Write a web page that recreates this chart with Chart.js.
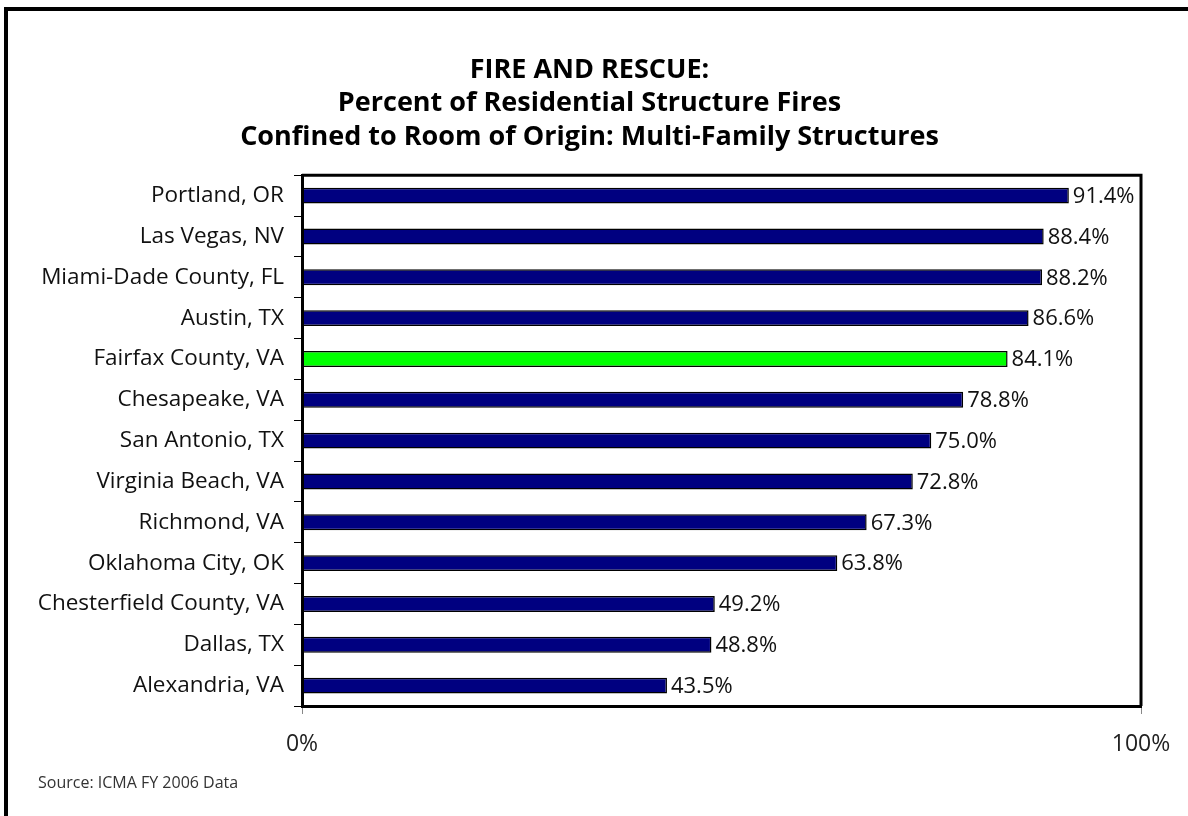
<!DOCTYPE html>
<html>
<head>
<meta charset="utf-8">
<script src="https://cdn.jsdelivr.net/npm/chart.js@4"></script>
<style>
    html, body { margin: 0; padding: 0; background: #fff; }
    #quadro {
        position: absolute; left: 4px; top: 7px; width: 1184px; height: 809px;
        border-left: 4px solid #000; border-top: 4px solid #000;
    }
    #grafico { position: absolute; left: 0; top: 0; }
</style>
</head>
<body>
<div id="quadro"></div>
<canvas id="grafico" width="1188" height="816"></canvas>
<script>
const cidades = [
    "Portland, OR", "Las Vegas, NV", "Miami-Dade County, FL", "Austin, TX",
    "Fairfax County, VA", "Chesapeake, VA", "San Antonio, TX", "Virginia Beach, VA",
    "Richmond, VA", "Oklahoma City, OK", "Chesterfield County, VA", "Dallas, TX", "Alexandria, VA"
];
const percentuais = [91.4, 88.4, 88.2, 86.6, 84.1, 78.8, 75.0, 72.8, 67.3, 63.8, 49.2, 48.8, 43.5];
const destaque = "Fairfax County, VA";
const titulo = [
    "FIRE AND RESCUE:",
    "Percent of Residential Structure Fires",
    "Confined to Room of Origin: Multi-Family Structures"
];
const fonte = "Source: ICMA FY 2006 Data";

const FAMILIA = "'Open Sans', Lato, sans-serif";

// moldura superior/direita da area do grafico
const bordaArea = {
    id: "bordaArea",
    afterDraw(chart) {
        const { ctx, chartArea: a } = chart;
        ctx.save();
        ctx.strokeStyle = "#000";
        ctx.lineWidth = 3;
        ctx.beginPath();
        ctx.moveTo(a.left, a.top);
        ctx.lineTo(a.right, a.top);
        ctx.lineTo(a.right, a.bottom);
        ctx.stroke();
        ctx.restore();
    }
};

// rotulos de valor no fim das barras
const rotulosValor = {
    id: "rotulosValor",
    afterDatasetsDraw(chart) {
        const { ctx } = chart;
        const meta = chart.getDatasetMeta(0);
        ctx.save();
        ctx.font = "22px " + FAMILIA;
        ctx.fillStyle = "#111";
        ctx.textAlign = "left";
        ctx.textBaseline = "middle";
        meta.data.forEach((barra, i) => {
            ctx.fillText(percentuais[i].toFixed(1) + "%", barra.x + 4, barra.y + 1);
        });
        ctx.restore();
    }
};

new Chart(document.getElementById("grafico"), {
    type: "bar",
    data: {
        labels: cidades,
        datasets: [{
            data: percentuais,
            backgroundColor: cidades.map(c => c === destaque ? "#00ff00" : "#000080"),
            borderColor: "#000",
            borderWidth: 1.5,
            borderSkipped: false,
            barPercentage: 0.39,
            categoryPercentage: 1
        }]
    },
    options: {
        indexAxis: "y",
        responsive: false,
        animation: false,
        layout: { padding: { top: 53, left: 38, right: 47, bottom: 25 } },
        plugins: {
            legend: { display: false },
            tooltip: { enabled: false },
            title: {
                display: true,
                text: titulo,
                color: "#000",
                font: { family: FAMILIA, size: 27, weight: "bold", lineHeight: 1.25 },
                padding: { top: 0, bottom: 21 }
            },
            subtitle: {
                display: true,
                position: "bottom",
                align: "start",
                text: fonte,
                color: "#333",
                font: { family: FAMILIA, size: 16, lineHeight: 1 },
                padding: 0
            }
        },
        scales: {
            x: {
                min: 0,
                max: 100,
                ticks: {
                    stepSize: 100,
                    callback: v => v + "%",
                    color: "#222",
                    font: { family: FAMILIA, size: 23 },
                    padding: 17,
                    maxRotation: 0
                },
                grid: { drawOnChartArea: false, drawTicks: true, tickLength: 8, color: "#888" },
                border: { display: true, color: "#000", width: 3 },
                afterFit: s => { s.height = 69; }
            },
            y: {
                ticks: {
                    color: "#111",
                    font: { family: FAMILIA, size: 22.5 },
                    padding: 10
                },
                grid: { drawOnChartArea: false, drawTicks: true, tickLength: 8, color: "#000", offset: true },
                border: { display: true, color: "#000", width: 3 },
                afterFit: s => { s.width = 264; }
            }
        }
    },
    plugins: [bordaArea, rotulosValor]
});
</script>
</body>
</html>
